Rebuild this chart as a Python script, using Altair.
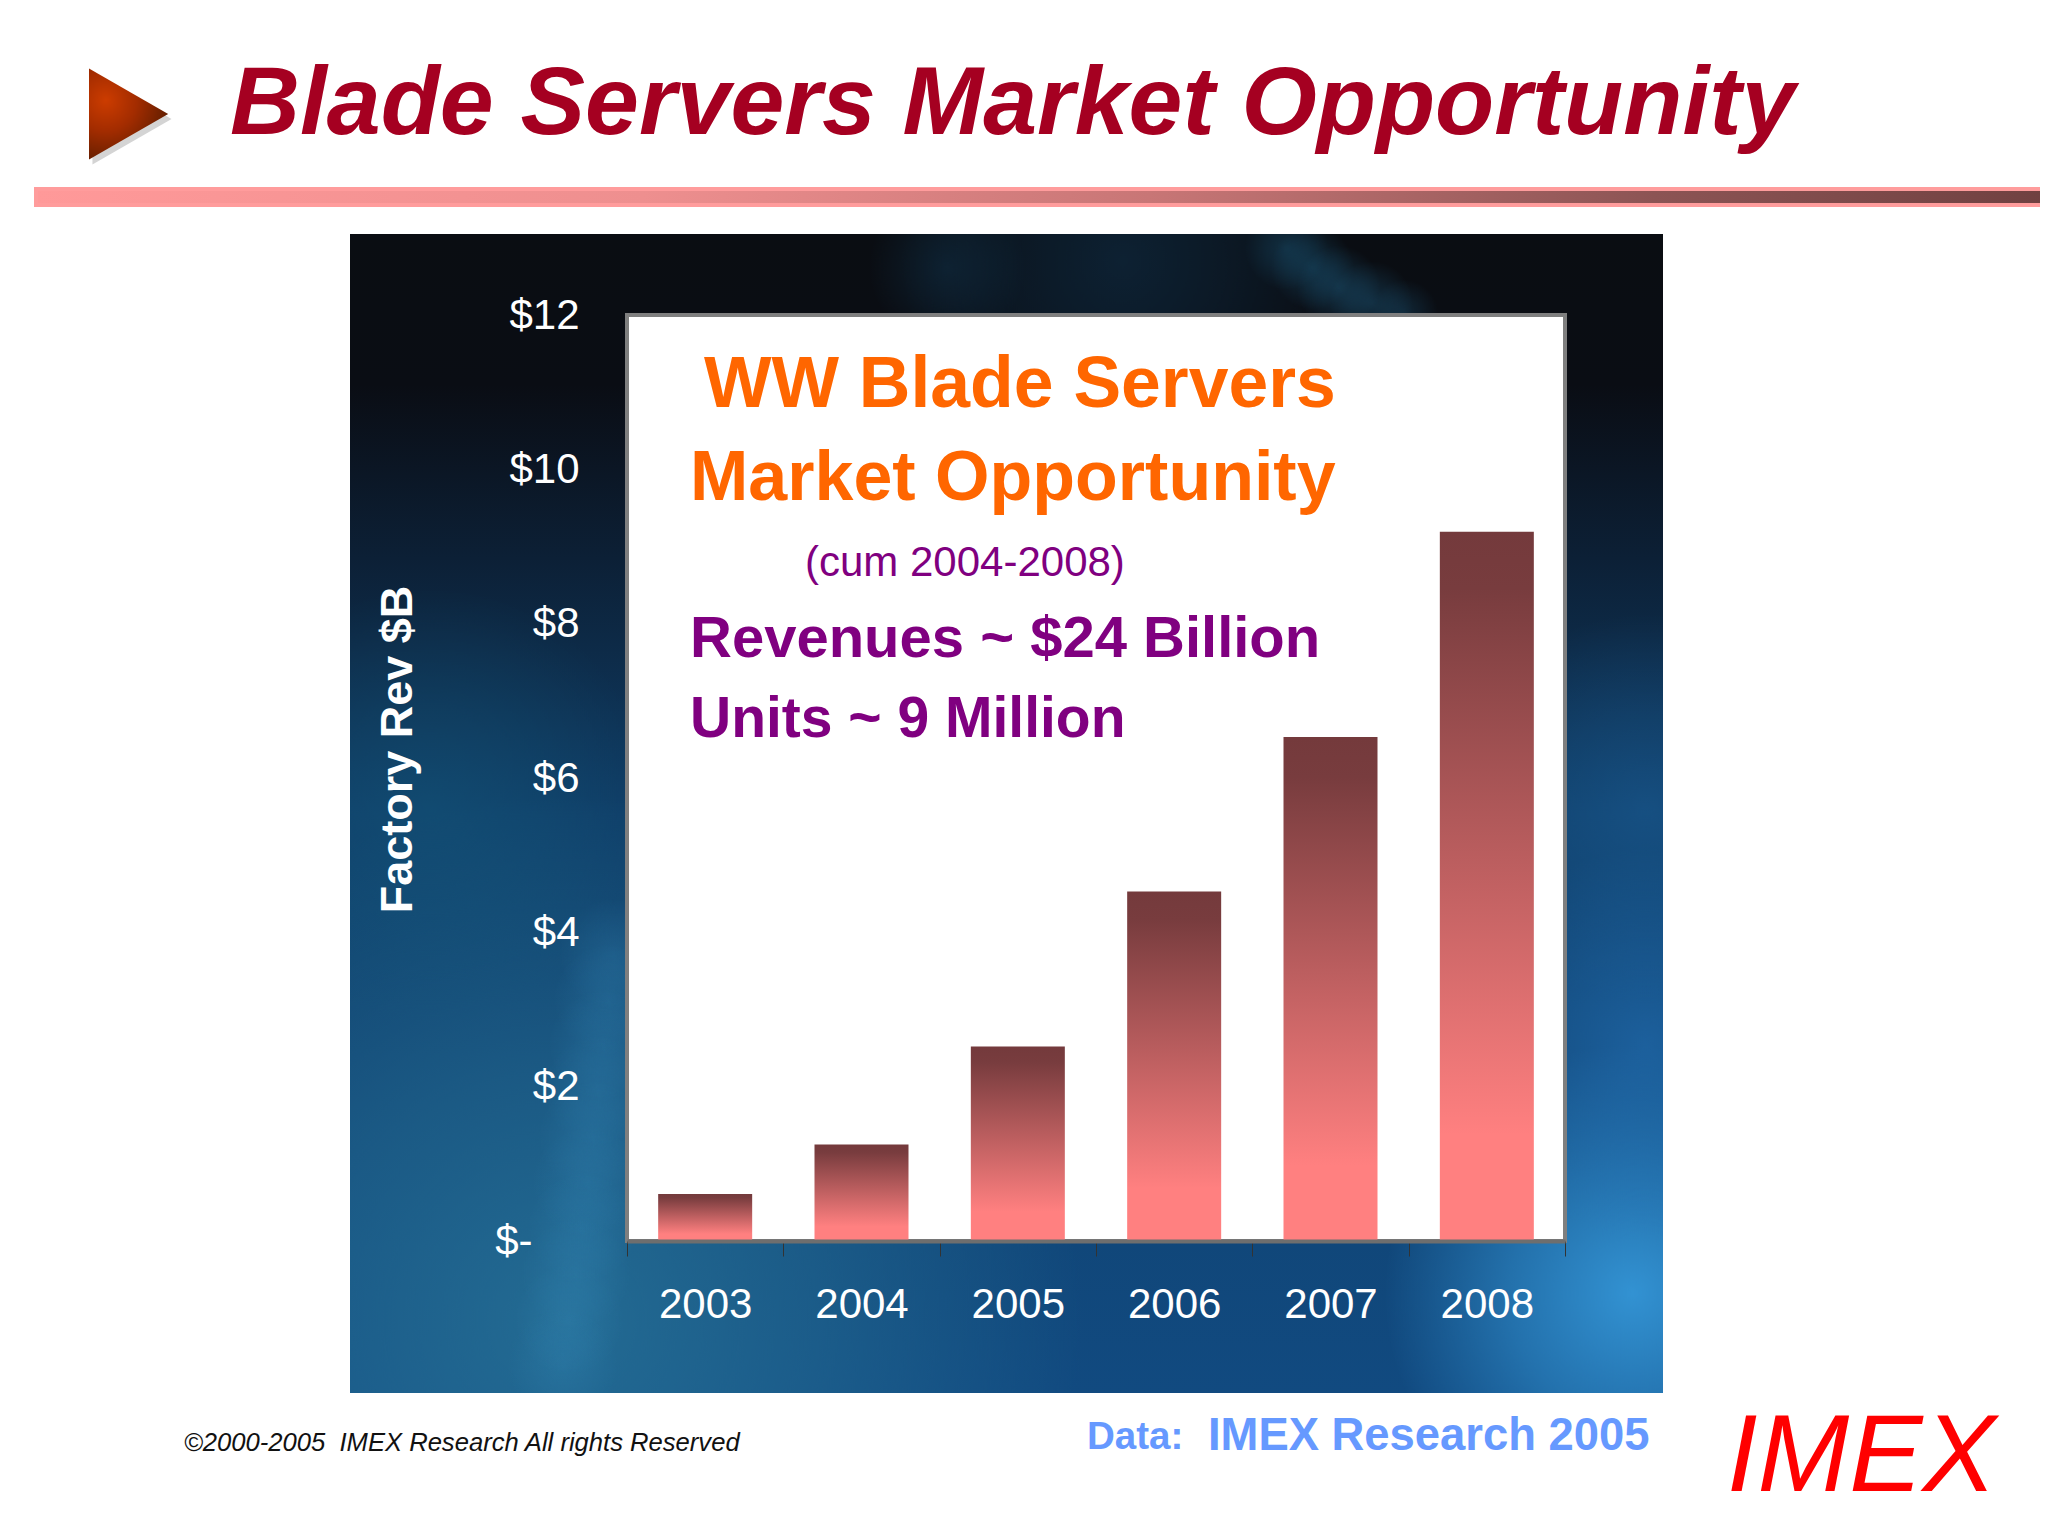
import altair as alt
import pandas as pd

years = ["2003", "2004", "2005", "2006", "2007", "2008"]
revenue = [0.61, 1.25, 2.52, 4.53, 6.53, 9.19]
y_ticks = [0, 2, 4, 6, 8, 10, 12]

FONT = "Liberation Sans"
PLOT_L, PLOT_T, PLOT_W, PLOT_H = 627, 315, 938, 926
PANEL = (350, 234, 1663, 1393)
S = 2048 / 1568


def px(x):
    return x - PLOT_L


def py(y):
    return y - PLOT_T


one = alt.Data(values=[{"a": 1}])


def box(x0, y0, x1, y1, **mark):
    return alt.Chart(one).mark_rect(**mark).encode(
        x=alt.value(px(x0)), x2=alt.value(px(x1)),
        y=alt.value(py(y0)), y2=alt.value(py(y1)),
    )


def label(txt, x, y, size, color, weight="normal", style="normal", align="left"):
    return alt.Chart(one).mark_text(
        text=txt, font=FONT, fontSize=size, color=color, fontWeight=weight,
        fontStyle=style, align=align, baseline="alphabetic",
    ).encode(x=alt.value(px(x)), y=alt.value(py(y)))


def linear(stops, x2=0, y2=1):
    return {
        "gradient": "linear", "x1": 0, "y1": 0, "x2": x2, "y2": y2,
        "stops": [{"offset": o, "color": c} for o, c in stops],
    }


def blob(sx, sy, sr, rgb, alpha):
    # soft round glow in the backdrop, position given in shrunk-picture pixels
    cx, cy, r = sx * S, sy * S, sr * S
    fill = {
        "gradient": "radial", "x1": .5, "y1": .5, "r1": 0, "x2": .5, "y2": .5, "r2": .5,
        "stops": [
            {"offset": 0, "color": f"rgba({rgb},{alpha})"},
            {"offset": .5, "color": f"rgba({rgb},{alpha * .55})"},
            {"offset": 1, "color": f"rgba({rgb},0)"},
        ],
    }
    return box(cx - r, cy - r, cx + r, cy + r, fill=fill)


base = box(*PANEL, fill=linear([
    (0, "#0a0d12"), (.13, "#0a0d14"), (.28, "#0c2036"), (.5, "#0f3e68"), (1, "#114a80"),
]))

blobs = [
    blob(430, 1010, 400, "42,120,155", .72),
    blob(330, 620, 170, "20,90,125", .45),
    blob(1250, 990, 190, "52,150,215", .95),
    blob(1260, 800, 150, "36,115,185", .6),
    blob(1260, 620, 150, "30,100,160", .45),
    blob(860, 200, 170, "18,70,110", .35),
    blob(725, 205, 60, "20,70,105", .3),
    blob(985, 190, 32, "30,105,145", .32),
    blob(1005, 205, 32, "30,105,145", .32),
    blob(1025, 220, 32, "35,115,160", .32),
    blob(1050, 232, 32, "35,115,160", .32),
    blob(1075, 240, 26, "35,115,160", .25),
]
streak_x = [470, 466, 462, 458, 454, 450, 446, 441, 436, 431]
streak_y = [730, 765, 800, 835, 870, 905, 940, 975, 1010, 1045]
blobs += [blob(x, y, 42, "60,150,200", .2) for x, y in zip(streak_x, streak_y)]

masks = [
    box(0, 0, 2048, PANEL[1], fill="white"),
    box(0, PANEL[3], 2048, 1536, fill="white"),
    box(0, 0, PANEL[0], 1536, fill="white"),
    box(PANEL[2], 0, 2048, 1536, fill="white"),
]

plate = box(PLOT_L, PLOT_T, PLOT_L + PLOT_W, PLOT_T + PLOT_H,
            fill="white", stroke="#7f7f7f", strokeWidth=4)

bars = alt.Chart(pd.DataFrame({"year": years, "rev": revenue})).mark_bar(
    width=94,
    fill=linear([(0, "#743a3c"), (.08, "#783c3e"), (.85, "#ff8080"), (1, "#ff8080")]),
).encode(
    x=alt.X("year:N", title=None, sort=years,
            scale=alt.Scale(paddingInner=0, paddingOuter=0),
            axis=alt.Axis(zindex=1, labelAngle=0, labelFont=FONT, labelFontSize=42,
                          labelColor="white", labelPadding=28, tickBand="extent",
                          tickSize=15, tickColor="#333333", tickWidth=1,
                          domainColor="#6e6e6e", domainWidth=4)),
    y=alt.Y("rev:Q", title="Factory Rev $B",
            scale=alt.Scale(domain=[0, 12], nice=False),
            axis=alt.Axis(zindex=1, values=y_ticks, grid=False, domain=False, ticks=False,
                          labelFont=FONT, labelFontSize=42, labelColor="white",
                          labelPadding={"condition": {"test": "datum.value == 0", "value": 95}, "value": 48},
                          labelExpr="datum.value == 0 ? '$-' : '$' + datum.value",
                          titleFont=FONT, titleFontSize=45, titleFontWeight="bold",
                          titleColor="white", titleX=-207, titleY=434)),
)

triangle_path = "M-0.87,-1L0.87,0L-0.87,1Z"
shadow = alt.Chart(one).mark_point(
    shape=triangle_path, filled=True, fill="#d4d4d4", size=8281, opacity=1,
).encode(x=alt.value(px(132)), y=alt.value(py(119)))
triangle = alt.Chart(one).mark_point(
    shape=triangle_path, filled=True, size=8281, opacity=1,
    fill={
        "gradient": "radial", "x1": .25, "y1": .35, "r1": 0, "x2": .25, "y2": .35, "r2": .75,
        "stops": [{"offset": 0, "color": "#cc3c00"}, {"offset": .45, "color": "#a32c00"},
                  {"offset": 1, "color": "#5a1c00"}],
    },
).encode(x=alt.value(px(128.6)), y=alt.value(py(114)))

rule = box(36, 189, 2060, 205, stroke="#ff9c9c", strokeWidth=4,
           fill=linear([(0, "#ff9999"), (.3, "#ee8f8f"), (.55, "#c87676"), (.8, "#8c5454"),
                        (1, "#6f4040")], x2=1, y2=0))

texts = [
    label("Blade Servers Market Opportunity", 230, 134, 96.8, "#a50021", "bold", "italic"),
    label("WW Blade Servers", 704, 407, 71.5, "#ff6600", "bold"),
    label("Market Opportunity", 690, 500, 70, "#ff6600", "bold"),
    label("(cum 2004-2008)", 805, 576, 42, "#800080"),
    label("Revenues ~ $24 Billion", 690, 657, 58, "#800080", "bold"),
    label("Units ~ 9 Million", 690, 737, 57, "#800080", "bold"),
    label("©2000-2005\u00a0\u00a0IMEX Research All rights Reserved", 184, 1451, 25.6, "#111111", style="italic"),
    label("Data:", 1087, 1449, 38.5, "#6699ff", "bold"),
    label("IMEX Research 2005", 1208, 1450, 45.4, "#6699ff", "bold"),
    label("IMEX", 1727, 1491, 110, "#ff0000", style="italic"),
]

chart = alt.layer(
    base, *blobs, *masks, plate, bars, rule, shadow, triangle, *texts
).properties(
    width=PLOT_W, height=PLOT_H,
    autosize=alt.AutoSizeParams(type="none"),
    padding={"left": PLOT_L - 8, "top": PLOT_T - 8, "right": 2040 - PLOT_L - PLOT_W, "bottom": 1520 - PLOT_T - PLOT_H},
    background="white",
).configure_view(stroke=None)

chart.save("out.html", embed_options={"renderer": "svg", "actions": False})
